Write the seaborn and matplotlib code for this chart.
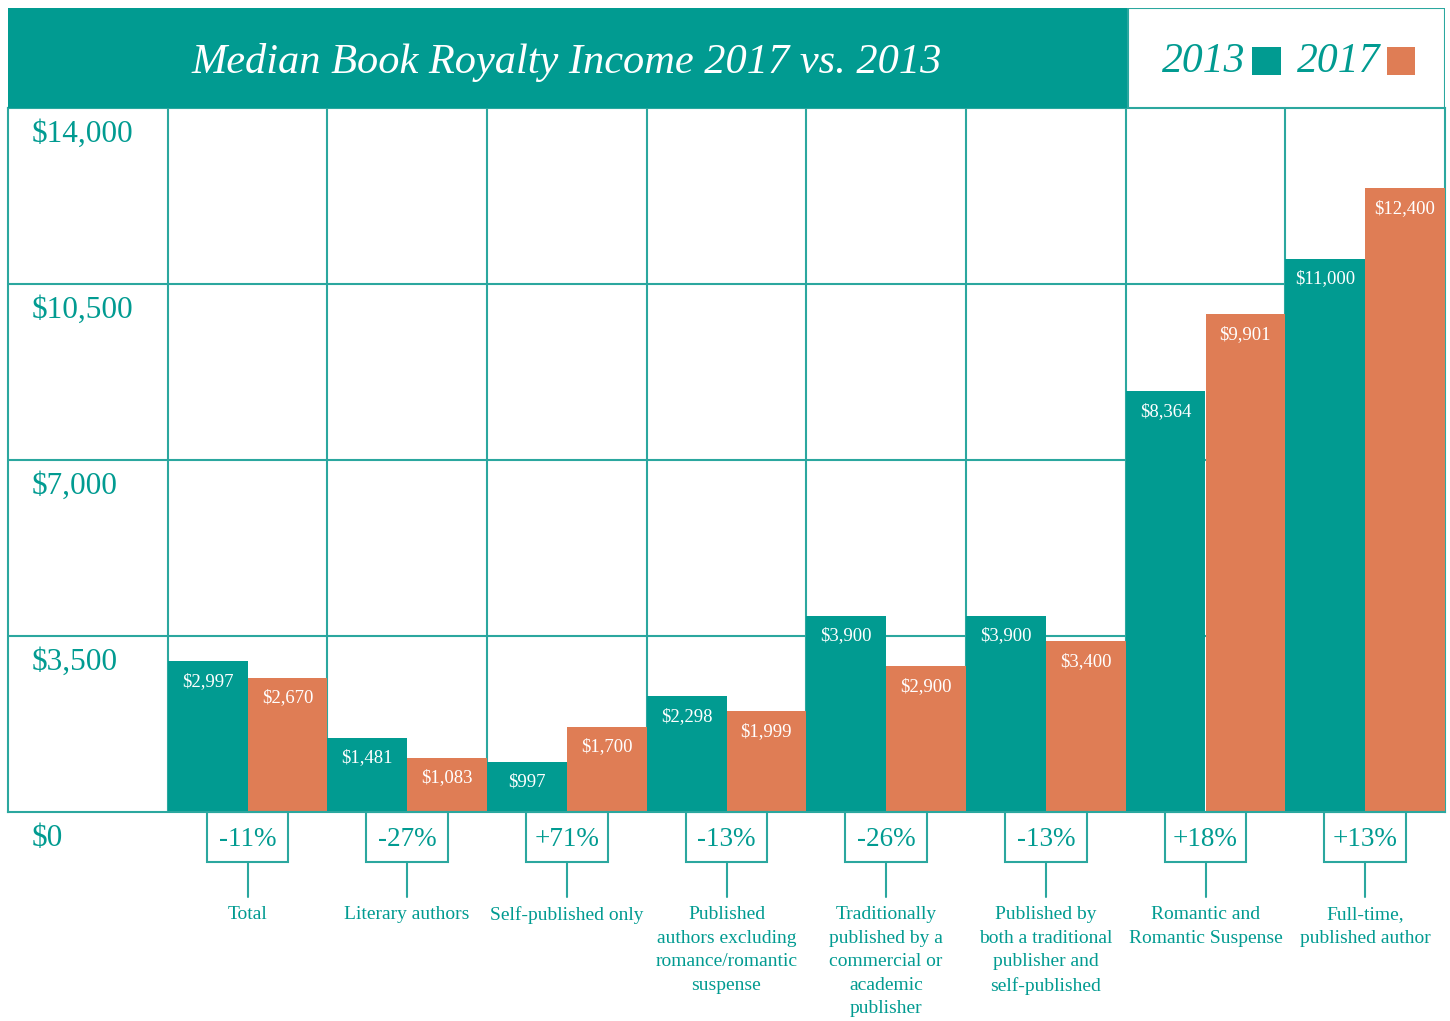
import matplotlib
matplotlib.use("Agg")
import matplotlib.pyplot as plt
from matplotlib.patches import Rectangle
import seaborn as sns
import pandas as pd

# ---------------- data ----------------
categories = ["Total", "Literary authors", "Self-published only",
              "Published\nauthors excluding\nromance/romantic\nsuspense",
              "Traditionally\npublished by a\ncommercial or\nacademic\npublisher",
              "Published by\nboth a traditional\npublisher and\nself-published",
              "Romantic and\nRomantic Suspense",
              "Full-time,\npublished author"]
values_2013 = [2997, 1481, 997, 2298, 3900, 3900, 8364, 11000]
values_2017 = [2670, 1083, 1700, 1999, 2900, 3400, 9901, 12400]
pct_change = ["-11%", "-27%", "+71%", "-13%", "-26%", "-13%", "+18%", "+13%"]
years = ["2013", "2017"]
ytick_vals = [0, 3500, 7000, 10500, 14000]
ytick_labels = ["$0", "$3,500", "$7,000", "$10,500", "$14,000"]
title = "Median Book Royalty Income 2017 vs. 2013"

TEAL = "#019B91"
ORANGE = "#DF7D55"
GRID = "#2BA79F"

df = pd.DataFrame({
    "category": categories * 2,
    "year": [years[0]] * len(categories) + [years[1]] * len(categories),
    "value": values_2013 + values_2017,
})

sns.set_theme(style="white")
plt.rcParams["font.family"] = ["Liberation Serif", "DejaVu Serif"]

W, H = 1450, 1021
fig = plt.figure(figsize=(W / 100, H / 100), dpi=100)

def fx(px):
    return px / W

def fy(py):
    return 1 - py / H

# main axes: x 8..1445, y 108..812
ax = fig.add_axes([fx(8), fy(812), fx(1445) - fx(8), fy(108) - fy(812)])

sns.barplot(data=df, x="category", y="value", hue="year", order=categories,
            hue_order=years, palette=[TEAL, ORANGE], saturation=1,
            width=1.0, gap=0, linewidth=0, legend=False, ax=ax, zorder=3)

ax.set_xlim(-1.5, len(categories) - 0.5)
ax.set_ylim(0, 14000)
ax.set_xticks([])
ax.set_yticks([])
ax.set_xlabel("")
ax.set_ylabel("")
for s in ax.spines.values():
    s.set_color(GRID)
    s.set_linewidth(1.5)
    s.set_visible(True)
ax.spines["bottom"].set_zorder(5)

# grid lines
for xv in [i - 0.5 for i in range(len(categories))]:
    ax.axvline(xv, color=GRID, lw=1.5, zorder=1)
for yv in ytick_vals[1:-1]:
    ax.axhline(yv, color=GRID, lw=1.5, zorder=1)

# y labels inside left slot
for v, lab in zip(ytick_vals, ytick_labels):
    ax.annotate(lab, xy=(24 / 1437, v), xycoords=("axes fraction", "data"),
                xytext=(0, -19), textcoords="offset points", ha="left", va="center",
                color=TEAL, fontsize=22.5, annotation_clip=False)

# bar value labels
for cont in ax.containers:
    for bar in cont:
        h = bar.get_height()
        ax.annotate(f"${h:,.0f}", xy=(bar.get_x() + bar.get_width() / 2, h),
                    xytext=(0, -14.5), textcoords="offset points", ha="center",
                    va="center", color="white", fontsize=13.5, zorder=6)

# percentage boxes, connectors, category labels below axis
trans = ax.get_xaxis_transform()
axh = 704.0
box_w = 82 / 159.67
for i, (pc, cat) in enumerate(zip(pct_change, categories)):
    y_top = 0.0
    y_bot = -(862 - 812) / axh
    ax.add_patch(Rectangle((i - box_w / 2, y_bot), box_w, y_top - y_bot,
                           transform=trans, facecolor="white", edgecolor=GRID,
                           lw=1.5, clip_on=False, zorder=4))
    ax.text(i, -(839 - 812) / axh, pc, transform=trans, ha="center", va="center",
            color=TEAL, fontsize=19.5, zorder=5)
    ax.plot([i, i], [y_bot, -(897 - 812) / axh], transform=trans, color=GRID,
            lw=1.5, clip_on=False, zorder=4)
    ax.text(i, -(906 - 812) / axh, cat, transform=trans, ha="center", va="top",
            color=TEAL, fontsize=14, linespacing=1.5, zorder=5)

# header
hax = fig.add_axes([fx(8), fy(108), fx(1445) - fx(8), fy(8) - fy(108)])
hax.set_xlim(8, 1445)
hax.set_ylim(108, 8)
hax.axis("off")
hax.add_patch(Rectangle((8, 8), 1128 - 8, 100, facecolor=TEAL, edgecolor="none"))
hax.add_patch(Rectangle((1128, 8), 1445 - 1128, 100, facecolor="white",
                        edgecolor=GRID, lw=1.5))
hax.text(567, 62, title, ha="center", va="center", color="white",
         fontsize=30.5, style="italic")
hax.text(1245, 62, years[0], ha="right", va="center", color=TEAL,
         fontsize=30, style="italic")
hax.add_patch(Rectangle((1252, 47), 29, 28, facecolor=TEAL, edgecolor="none"))
hax.text(1380, 62, years[1], ha="right", va="center", color=TEAL,
         fontsize=30, style="italic")
hax.add_patch(Rectangle((1387, 47), 28, 28, facecolor=ORANGE, edgecolor="none"))

fig.savefig("out.png", dpi=100, facecolor="white")
